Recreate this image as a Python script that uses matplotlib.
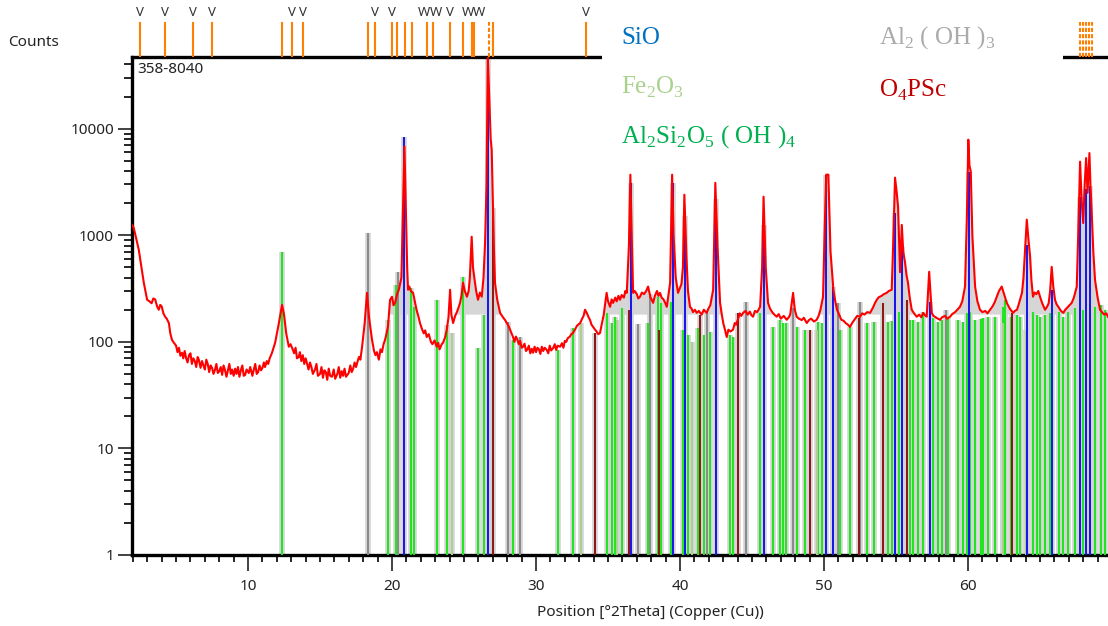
import matplotlib
matplotlib.use("Agg")
import matplotlib.pyplot as plt
import numpy as np
from matplotlib.ticker import MultipleLocator, LogLocator, FuncFormatter, NullFormatter
from matplotlib.patches import Rectangle

two_theta = [1.94, 2.06, 2.41, 2.76, 2.99, 3.15, 3.3, 3.42, 3.55, 3.68,
             3.8, 3.9, 4.0, 4.12, 4.24, 4.35, 4.5, 4.6, 4.72, 4.85,
             5.0, 5.1, 5.2, 5.3, 5.42, 5.5, 5.6, 5.7, 5.8, 5.9,
             6.0, 6.1, 6.2, 6.3, 6.4, 6.5, 6.58, 6.7, 6.8, 6.9,
             7.0, 7.1, 7.2, 7.3, 7.4, 7.5, 7.6, 7.71, 7.8, 7.9,
             8.0, 8.1, 8.2, 8.3, 8.4, 8.5, 8.6, 8.7, 8.8, 8.89,
             9.0, 9.1, 9.2, 9.3, 9.4, 9.5, 9.6, 9.7, 9.8, 9.9,
             10.05, 10.15, 10.3, 10.4, 10.5, 10.6, 10.7, 10.8, 10.9, 11.0,
             11.1, 11.18, 11.3, 11.4, 11.5, 11.65, 11.88, 12.1, 12.36, 12.5,
             12.65, 12.83, 12.95, 13.1, 13.2, 13.3, 13.4, 13.52, 13.6, 13.7,
             13.8, 13.9, 14.0, 14.1, 14.2, 14.3, 14.4, 14.5, 14.65, 14.75,
             14.85, 15.0, 15.1, 15.2, 15.3, 15.4, 15.5, 15.6, 15.7, 15.83,
             15.95, 16.05, 16.2, 16.3, 16.4, 16.5, 16.6, 16.7, 16.8, 16.99,
             17.1, 17.2, 17.3, 17.4, 17.5, 17.6, 17.7, 17.8, 17.92, 18.1,
             18.26, 18.4, 18.61, 18.75, 18.85, 18.95, 19.08, 19.2, 19.3, 19.41,
             19.51, 19.62, 19.72, 19.86, 20.0, 20.1, 20.21, 20.35, 20.47, 20.65,
             20.75, 20.86, 20.95, 21.05, 21.11, 21.2, 21.3, 21.46, 21.58, 21.7,
             21.82, 21.94, 22.05, 22.2, 22.3, 22.41, 22.55, 22.7, 22.8, 22.95,
             23.1, 23.2, 23.3, 23.45, 23.54, 23.68, 23.8, 23.92, 24.03, 24.12,
             24.24, 24.38, 24.5, 24.62, 24.72, 24.82, 24.93, 25.05, 25.2, 25.32,
             25.4, 25.53, 25.62, 25.76, 25.86, 25.97, 26.1, 26.23, 26.35, 26.46,
             26.56, 26.65, 26.75, 26.85, 26.92, 27.0, 27.08, 27.15, 27.3, 27.5,
             27.7, 27.85, 27.97, 28.1, 28.25, 28.4, 28.5, 28.6, 28.7, 28.8,
             28.9, 29.0, 29.1, 29.2, 29.3, 29.4, 29.5, 29.6, 29.7, 29.79,
             29.9, 30.0, 30.1, 30.2, 30.3, 30.4, 30.5, 30.6, 30.74, 30.85,
             30.95, 31.05, 31.2, 31.3, 31.4, 31.5, 31.67, 31.8, 31.9, 32.0,
             32.1, 32.2, 32.35, 32.45, 32.57, 32.7, 32.85, 33.06, 33.2, 33.3,
             33.4, 33.52, 33.65, 33.75, 33.85, 33.96, 34.1, 34.2, 34.32, 34.44,
             34.7, 34.9, 35.0, 35.14, 35.25, 35.35, 35.5, 35.6, 35.72, 35.83,
             35.95, 36.1, 36.2, 36.3, 36.45, 36.55, 36.65, 36.74, 36.85, 37.0,
             37.1, 37.22, 37.35, 37.5, 37.65, 37.78, 37.95, 38.05, 38.13, 38.25,
             38.4, 38.5, 38.61, 38.72, 38.85, 38.95, 39.08, 39.2, 39.31, 39.45,
             39.55, 39.7, 39.86, 39.95, 40.1, 40.2, 40.3, 40.45, 40.55, 40.69,
             40.8, 40.9, 41.03, 41.16, 41.3, 41.5, 41.65, 41.85, 41.97, 42.1,
             42.3, 42.45, 42.6, 42.78, 42.9, 43.0, 43.12, 43.24, 43.36, 43.5,
             43.68, 43.8, 43.9, 44.0, 44.15, 44.25, 44.38, 44.55, 44.7, 44.85,
             44.95, 45.07, 45.2, 45.35, 45.45, 45.56, 45.7, 45.8, 45.95, 46.11,
             46.25, 46.4, 46.55, 46.71, 46.85, 47.0, 47.2, 47.41, 47.55, 47.65,
             47.85, 47.97, 48.1, 48.25, 48.45, 48.6, 48.8, 48.95, 49.1, 49.3,
             49.49, 49.62, 49.75, 49.93, 50.05, 50.15, 50.3, 50.45, 50.65, 50.78,
             50.9, 51.05, 51.2, 51.35, 51.5, 51.65, 51.8, 51.95, 52.1, 52.3,
             52.5, 52.65, 52.8, 53.0, 53.2, 53.4, 53.53, 53.66, 53.8, 54.0,
             54.15, 54.35, 54.5, 54.7, 54.82, 54.93, 55.05, 55.14, 55.28, 55.4,
             55.5, 55.63, 55.73, 55.83, 55.95, 56.09, 56.25, 56.44, 56.6, 56.75,
             56.88, 57.0, 57.13, 57.3, 57.48, 57.6, 57.75, 57.9, 58.06, 58.2,
             58.4, 58.55, 58.75, 58.9, 59.1, 59.25, 59.44, 59.6, 59.79, 59.92,
             60.02, 60.1, 60.19, 60.3, 60.49, 60.65, 60.83, 61.0, 61.2, 61.35,
             61.53, 61.7, 61.85, 62.0, 62.15, 62.34, 62.5, 62.69, 62.9, 63.13,
             63.25, 63.4, 63.5, 63.61, 63.75, 63.85, 64.0, 64.08, 64.2, 64.31,
             64.4, 64.51, 64.62, 64.75, 64.88, 65.0, 65.15, 65.35, 65.5, 65.6,
             65.7, 65.81, 65.92, 66.04, 66.15, 66.3, 66.45, 66.62, 66.75, 66.9,
             67.05, 67.2, 67.35, 67.55, 67.65, 67.78, 67.9, 68.0, 68.1, 68.2,
             68.3, 68.43, 68.5, 68.59, 68.7, 68.82, 69.0, 69.17, 69.3, 69.45,
             69.6, 69.72]
counts = [1250, 1175, 731, 358, 248, 240, 230, 255, 250, 215,
          200, 222, 215, 185, 172, 165, 150, 120, 104, 98,
          92, 80, 88, 74, 79, 70, 82, 70, 64, 75,
          78, 62, 70, 66, 58, 72, 68, 57, 66, 60,
          55, 68, 62, 52, 60, 57, 50, 55, 62, 51,
          53, 58, 49, 60, 54, 47, 54, 62, 50, 55,
          48, 56, 50, 58, 47, 54, 60, 48, 49, 55,
          51, 58, 48, 55, 62, 50, 52, 60, 54, 57,
          64, 58, 66, 62, 70, 78, 98, 140, 222, 180,
          120, 90, 95, 85, 78, 88, 70, 72, 80, 66,
          75, 62, 70, 62, 55, 64, 58, 50, 55, 62,
          48, 50, 58, 46, 54, 52, 44, 56, 48, 47,
          55, 45, 50, 58, 46, 53, 48, 56, 47, 51,
          60, 52, 56, 64, 58, 65, 72, 68, 90, 150,
          288, 170, 104, 82, 75, 80, 68, 85, 80, 95,
          104, 120, 140, 248, 265, 220, 232, 280, 308, 400,
          1500, 6800, 2000, 500, 308, 330, 300, 288, 240, 200,
          175, 150, 135, 120, 128, 111, 118, 100, 95, 103,
          90, 98, 85, 95, 98, 110, 130, 170, 308, 180,
          150, 175, 190, 210, 232, 270, 358, 300, 265, 300,
          400, 968, 500, 358, 290, 248, 290, 265, 400, 850,
          3000, 47000, 20000, 8000, 6350, 2000, 700, 358, 250, 187,
          170, 160, 150, 140, 125, 111, 100, 112, 105, 95,
          102, 88, 90, 96, 82, 85, 92, 78, 86, 79,
          90, 80, 88, 85, 77, 90, 82, 88, 84, 78,
          92, 83, 88, 95, 84, 92, 90, 97, 88, 102,
          100, 108, 112, 118, 121, 130, 142, 150, 165, 175,
          200, 187, 170, 160, 145, 138, 130, 125, 118, 121,
          180, 288, 240, 213, 250, 232, 260, 240, 270, 248,
          275, 260, 300, 288, 800, 3700, 900, 288, 300, 280,
          255, 265, 290, 280, 300, 330, 260, 245, 232, 270,
          300, 270, 288, 260, 250, 235, 213, 280, 358, 3700,
          1000, 400, 288, 310, 350, 500, 2400, 600, 300, 213,
          205, 190, 200, 187, 195, 180, 200, 187, 205, 220,
          308, 3100, 800, 232, 180, 150, 130, 111, 130, 125,
          130, 150, 145, 160, 185, 175, 187, 195, 180, 192,
          178, 172, 195, 190, 200, 213, 500, 2300, 500, 232,
          205, 190, 180, 172, 182, 165, 175, 161, 170, 180,
          288, 200, 172, 165, 160, 168, 150, 160, 165, 155,
          161, 175, 200, 265, 1200, 3700, 3700, 700, 308, 240,
          200, 180, 161, 158, 150, 145, 138, 150, 160, 175,
          172, 185, 180, 190, 187, 210, 230, 248, 262, 270,
          280, 288, 300, 308, 1000, 3470, 2500, 1850, 450, 1250,
          700, 550, 420, 358, 260, 200, 185, 172, 180, 170,
          187, 178, 172, 454, 187, 175, 170, 165, 161, 170,
          175, 165, 172, 182, 190, 200, 213, 240, 330, 1500,
          7880, 4500, 3950, 1000, 330, 240, 200, 190, 195, 185,
          200, 215, 235, 265, 300, 330, 280, 232, 205, 187,
          195, 200, 220, 248, 290, 400, 900, 1400, 900, 630,
          380, 265, 290, 280, 300, 265, 230, 200, 215, 230,
          300, 505, 330, 248, 225, 210, 195, 187, 200, 210,
          220, 232, 260, 330, 1000, 4900, 2000, 1300, 3000, 5300,
          2500, 5900, 3000, 1620, 700, 380, 260, 200, 190, 180,
          185, 172]

# reference patterns (stick positions, heights)
quartz_pos = [20.86, 26.64, 36.56, 39.48, 40.32, 42.48, 45.82, 50.16, 50.6, 54.95, 55.4, 57.33, 60.05,
              64.1, 65.85, 67.8, 68.22, 68.45]
quartz_int = [8400, 47000, 3100, 3100, 1500, 2200, 1250, 3700, 330, 1620, 780, 238, 3900,
              810, 308, 2300, 2700, 2900]

gibbsite_pos = [18.33, 20.42, 28.06, 28.9, 37.05, 37.88, 41.9, 44.55, 47.82, 50.97, 52.5, 54.9, 58.45]
gibbsite_int = [1050, 455, 155, 111, 148, 280, 196, 238, 208, 232, 238, 240, 200]

hematite_pos = [24.14, 33.15, 35.61, 40.85, 49.48, 54.09, 62.45, 64.0]
hematite_int = [120, 150, 160, 100, 130, 140, 150, 130]

scandium_pos = [27.0, 34.07, 36.45, 38.54, 41.39, 44.03, 49.03, 52.4, 54.1, 55.76, 63.06, 68.47]
scandium_int = [1800, 120, 200, 130, 180, 187, 130, 167, 232, 248, 187, 232]

kaolinite_pos = [12.36, 19.72, 20.28, 21.32, 21.53, 23.1, 23.8, 24.9, 25.94, 26.38, 28.4, 31.5, 32.57,
                 34.9, 35.25, 35.49, 36.0, 37.78, 38.45, 38.65, 39.38, 40.19, 40.58, 41.23, 41.67, 42.08,
                 43.47, 43.66, 45.56, 46.48, 46.94, 47.13, 47.36, 48.1, 48.68, 49.6, 49.84, 50.6, 51.11,
                 51.8, 53.0, 53.47, 54.47, 54.7, 55.23, 55.4, 55.97, 56.2, 56.55, 56.9, 57.55, 57.93,
                 58.2, 58.63, 59.33, 59.66, 59.9, 60.14, 60.49, 60.9, 61.06, 61.41, 61.88, 62.45, 62.57,
                 63.0, 63.38, 63.61, 64.08, 64.54, 64.77, 65.0, 65.35, 65.69, 66.34, 66.62, 66.97, 67.43,
                 67.78, 68.0, 68.82, 69.2, 69.51]
kaolinite_int = [700, 160, 343, 323, 213, 248, 145, 410, 88, 180, 104, 84, 135,
                 187, 150, 172, 208, 150, 265, 232, 238, 130, 117, 135, 117, 124,
                 117, 111, 187, 138, 161, 150, 150, 138, 130, 155, 150, 135, 130,
                 138, 150, 155, 155, 158, 190, 190, 161, 161, 155, 190, 167, 155,
                 160, 167, 161, 155, 187, 190, 161, 165, 167, 172, 172, 213, 248,
                 170, 178, 172, 190, 190, 178, 170, 178, 187, 190, 172, 190, 208,
                 208, 200, 213, 222, 200]

# peak list markers above the plot
marker_pos = [2.5, 4.24, 6.16, 7.5, 12.34, 13.06, 13.8, 18.33, 18.82, 20.0, 20.37, 20.92, 21.41,
              22.43, 22.85, 24.05, 24.91, 25.56, 25.72, 26.74, 26.99, 33.47,
              67.76, 67.97, 68.18, 68.39, 68.6]
label_pos = [2.5, 4.24, 6.16, 7.5, 13.06, 13.8, 18.82, 20.0, 22.24, 23.04, 24.05, 25.24, 26.04, 33.47]
label_txt = ['V', 'V', 'V', 'V', 'V', 'V', 'V', 'V', 'W', 'W', 'V', 'W', 'W', 'V']

legend_items = [('SiO', '#0070C0'),
                (r'Al$_\mathregular{2}$ ( OH )$_\mathregular{3}$', '#ABABAB'),
                (r'Fe$_\mathregular{2}$O$_\mathregular{3}$', '#A9D18E'),
                (r'O$_\mathregular{4}$PSc', '#C00000'),
                (r'Al$_\mathregular{2}$Si$_\mathregular{2}$O$_\mathregular{5}$ ( OH )$_\mathregular{4}$', '#00B050')]

W, H = 1108, 626
plt.rcParams['font.family'] = ['Noto Sans', 'DejaVu Sans']
fig = plt.figure(figsize=(W / 100, H / 100), dpi=100)
ax = fig.add_axes([132 / W, (H - 555) / H, (W - 132) / W, (555 - 57) / H])

x = np.array(two_theta)
y = np.array(counts)

# grey profile fill under the peaks
ax.fill_between(x, 180, y, where=(x > 19.5) & (y > 180), interpolate=True,
                color='#D6D6D6', lw=0, zorder=1)

all_pos = quartz_pos + gibbsite_pos + hematite_pos + scandium_pos + kaolinite_pos
all_int = quartz_int + gibbsite_int + hematite_int + scandium_int + kaolinite_int
ax.vlines(all_pos, 1, all_int, color='#D3D3D3', lw=4.0, zorder=2)

ax.vlines(kaolinite_pos, 1, kaolinite_int, color='#1EE61E', lw=1.4, zorder=3)
ax.vlines(hematite_pos, 1, hematite_int, color='#A9D18E', lw=1.4, zorder=3)
ax.vlines(gibbsite_pos, 1, gibbsite_int, color='#8A8A8A', lw=1.4, zorder=3)
ax.vlines(scandium_pos, 1, scandium_int, color='#8E1414', lw=1.4, zorder=3)
ax.vlines(quartz_pos, 1, quartz_int, color='#1414F0', lw=1.4, zorder=3)

ax.plot(x, y, color='#FF0000', lw=1.5, zorder=4)

ax.set_yscale('log')
ax.set_xlim(1.94, 69.72)
ax.set_ylim(1, 47000)

ax.xaxis.set_major_locator(MultipleLocator(10))
ax.xaxis.set_minor_locator(MultipleLocator(1))
ax.yaxis.set_major_locator(LogLocator(base=10))
ax.yaxis.set_minor_locator(LogLocator(base=10, subs=np.arange(2, 10)))
ax.yaxis.set_major_formatter(FuncFormatter(lambda v, p: f'{v:g}'))
ax.yaxis.set_minor_formatter(NullFormatter())

ax.tick_params(axis='x', which='major', length=11.5, width=1.2, pad=6, labelsize=11, colors='#222222')
ax.tick_params(axis='x', which='minor', length=5, width=1.2)
ax.tick_params(axis='y', which='major', length=10, width=1.2, pad=3, labelsize=11, colors='#222222')
ax.tick_params(axis='y', which='minor', length=6, width=1.2)

for side in ['left', 'bottom', 'top']:
    ax.spines[side].set_linewidth(2.4)
ax.spines['right'].set_visible(False)

ax.text(0.005, 0.975, '358-8040', transform=ax.transAxes,
        ha='left', va='center', fontsize=11, color='#222222')

# peak markers strip
ax_top = fig.add_axes([132 / W, (H - 57) / H, (W - 132) / W, 57 / H])
ax_top.set_xlim(1.94, 69.72)
ax_top.set_ylim(0, 57)
ax_top.axis('off')
for p in marker_pos:
    ls = (0, (2, 1)) if p == 26.74 or p > 60 else '-'
    ax_top.vlines(p, 0, 35, color='#FF8000', lw=1.5, linestyles=ls)
for p, lab in zip(label_pos, label_txt):
    ax_top.text(p, 44, lab, ha='center', va='center', fontsize=9.5, color='#333333')

fig.text(8 / W, 1 - 42 / H, 'Counts', ha='left', va='center', fontsize=11, color='#222222')
fig.text(650 / W, 1 - 612 / H, 'Position [°2Theta] (Copper (Cu))', ha='center', va='center',
         fontsize=11, color='#222222')

# legend box
fig.patches.append(Rectangle((602 / W, 1 - 130 / H), (1063 - 602) / W, 130 / H,
                             transform=fig.transFigure, facecolor='white', edgecolor='none',
                             zorder=10))
leg_xy = [(621, 38), (879, 38), (621, 87), (879, 90), (621, 137)]
for (lab, col), (lx, ly) in zip(legend_items, leg_xy):
    fig.text(lx / W, 1 - ly / H, lab, ha='left', va='center', fontsize=18,
             family='Liberation Serif', color=col, zorder=11)

fig.savefig('out.png', dpi=100)
